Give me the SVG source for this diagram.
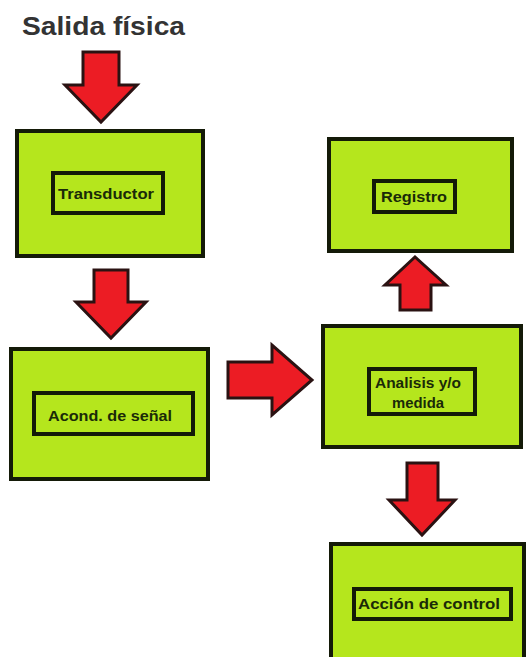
<svg xmlns="http://www.w3.org/2000/svg" width="527" height="657" viewBox="0 0 527 657">
<style>
.outer{fill:#b5e61d;stroke:#141a08;stroke-width:4}
.inner{fill:#b5e61d;stroke:#141a08;stroke-width:4}
.lbl{font-family:"Liberation Sans",Arial,sans-serif;font-weight:bold;font-size:15px;fill:#1a2a08}
.arr{fill:#ec1c24;stroke:#2a1212;stroke-width:3;stroke-linejoin:miter}
.title{font-family:"Liberation Sans",Arial,sans-serif;font-weight:bold;font-size:25px;fill:#333333}
</style>
<rect width="527" height="657" fill="#ffffff"/>
<text class="title" x="22" y="35" textLength="163" lengthAdjust="spacingAndGlyphs">Salida física</text>
<g id="connectors">
<polygon class="arr" points="83,52 119,52 119,85 137,85 101,122 65,85 83,85"/>
<polygon class="arr" points="94,270 128,270 128,302 146,302 111,338 76,302 94,302"/>
<polygon class="arr" points="228,362 272,362 272,345 312,380 272,415 272,398 228,398"/>
<polygon class="arr" points="400,310 431,310 431,285 446,285 415,257 385,285 400,285"/>
<polygon class="arr" points="407,463 438,463 438,500 455,500 422,535 389,500 407,500"/>
</g>
<g id="transductor">
<rect class="outer" x="17" y="131" width="186" height="125"/>
<rect class="inner" x="53" y="173" width="110" height="40"/>
<text class="lbl" x="106" y="199" text-anchor="middle" textLength="96" lengthAdjust="spacingAndGlyphs">Transductor</text>
</g>
<g id="acond">
<rect class="outer" x="11" y="349" width="197" height="130"/>
<rect class="inner" x="34" y="393" width="159" height="41"/>
<text class="lbl" x="110" y="421" text-anchor="middle" textLength="124" lengthAdjust="spacingAndGlyphs">Acond. de señal</text>
</g>
<g id="registro">
<rect class="outer" x="329" y="139" width="183" height="112"/>
<rect class="inner" x="374" y="181" width="81" height="31"/>
<text class="lbl" x="414" y="202" text-anchor="middle" textLength="66" lengthAdjust="spacingAndGlyphs">Registro</text>
</g>
<g id="analisis">
<rect class="outer" x="323" y="326" width="198" height="121"/>
<rect class="inner" x="369" y="369" width="106" height="45"/>
<text class="lbl" x="418" y="388" text-anchor="middle" textLength="86" lengthAdjust="spacingAndGlyphs">Analisis y/o</text>
<text class="lbl" x="418" y="408" text-anchor="middle" textLength="52" lengthAdjust="spacingAndGlyphs">medida</text>
</g>
<g id="accion">
<rect class="outer" x="331" y="544" width="193" height="125"/>
<rect class="inner" x="354" y="589" width="157" height="30"/>
<text class="lbl" x="429" y="609" text-anchor="middle" textLength="142" lengthAdjust="spacingAndGlyphs">Acción de control</text>
</g>
</svg>
